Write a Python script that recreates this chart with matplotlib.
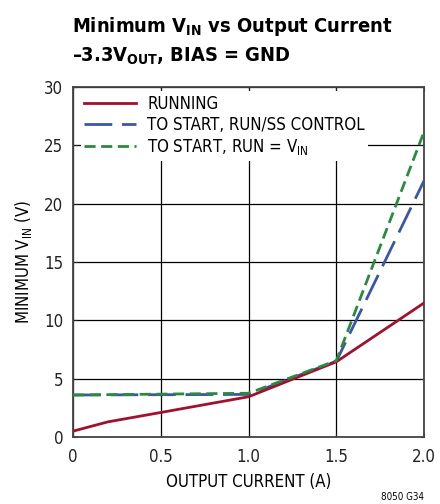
import matplotlib
matplotlib.use("Agg")
import matplotlib.pyplot as plt
from matplotlib import font_manager

tt = font_manager.fontManager.ttflist
names = {f.name for f in tt}
STRETCH = "normal"
if "Liberation Sans Narrow" in names:
    FONT = "Liberation Sans Narrow"
elif any(f.name == "DejaVu Sans" and f.stretch in ("condensed", "semi-condensed") for f in tt):
    FONT = "DejaVu Sans"
    STRETCH = "condensed"
elif "Roboto Condensed" in names:
    FONT = "Roboto Condensed"
elif "Roboto" in names:
    FONT = "Roboto"
else:
    FONT = "Liberation Sans"

plt.rcParams['font.family'] = [FONT, 'DejaVu Sans']
plt.rcParams['font.stretch'] = STRETCH
plt.rcParams['mathtext.fontset'] = 'custom'
plt.rcParams['mathtext.rm'] = FONT
plt.rcParams['mathtext.it'] = FONT
plt.rcParams['mathtext.bf'] = FONT + ':bold'
plt.rcParams['mathtext.default'] = 'regular'

# Data
run_x = [0.0, 0.2, 0.5, 1.0, 1.5, 2.0]
run_y = [0.5, 1.3, 2.1, 3.45, 6.45, 11.5]
ss_x = [0.0, 1.0, 1.5, 2.0]
ss_y = [3.6, 3.65, 6.5, 22.0]
vin_x = [0.0, 1.0, 1.5, 2.0]
vin_y = [3.6, 3.75, 6.55, 26.2]
labels = ["RUNNING", "TO START, RUN/SS CONTROL", "TO START, RUN = V$_{IN}$"]
xticks = [0, 0.5, 1.0, 1.5, 2.0]
xticklabels = ["0", "0.5", "1.0", "1.5", "2.0"]
yticks = [0, 5, 10, 15, 20, 25, 30]
title1 = "Minimum V$_{IN}$ vs Output Current"
title2 = "–3.3V$_{OUT}$, BIAS = GND"

RED = "#a0112e"
BLUE = "#3a56a8"
GREEN = "#2a8a3e"

fig = plt.figure(figsize=(4.4, 5.04), dpi=100)
renderer = fig.canvas.get_renderer()


def width_at(s, size, **kw):
    t = fig.text(0, 0, s, fontsize=size, **kw)
    w = t.get_window_extent(renderer).width
    t.remove()
    return w

# fit sizes to reference widths (px)
BASE = 13 * 217.0 / width_at("TO START, RUN/SS CONTROL", 13)
BASE = min(BASE, 13.5)
TSIZE = 17 * 321.0 / width_at(title1, 17, fontweight="bold")
TSIZE = min(TSIZE, 17.5)

ax = fig.add_axes([0.166, 0.133, 0.798, 0.694])

ax.plot(run_x, run_y, color=RED, lw=2.0, label=labels[0], zorder=4)
ax.plot(ss_x, ss_y, color=BLUE, lw=2.0, dashes=(10, 3.5), label=labels[1], zorder=3)
ax.plot(vin_x, vin_y, color=GREEN, lw=2.0, dashes=(4, 2), label=labels[2], zorder=5)

ax.set_xlim(0, 2.0)
ax.set_ylim(0, 30)
ax.set_xticks(xticks)
ax.set_xticklabels(xticklabels)
ax.set_yticks(yticks)
ax.grid(True, color="black", lw=0.9)
ax.set_axisbelow(True)
ax.tick_params(direction="in", length=3, top=True, right=True, labelsize=BASE,
               colors="#222222")
ax.tick_params(axis="x", pad=8)
ax.tick_params(axis="y", pad=7)
for s in ax.spines.values():
    s.set_color("#444444")
    s.set_linewidth(1.3)

ax.set_xlabel("OUTPUT CURRENT (A)", fontsize=BASE, labelpad=5)
ax.set_ylabel("MINIMUM V$_{IN}$ (V)", fontsize=BASE, labelpad=7)

px_per_em = BASE * 100 / 72.0
leg = ax.legend(loc="upper left", bbox_to_anchor=(0.011, 1.0), fontsize=BASE,
                frameon=True, facecolor="white",
                edgecolor="none", framealpha=1, fancybox=False,
                handlelength=52 / px_per_em, handletextpad=11 / px_per_em,
                labelspacing=0.19, borderpad=0.2, borderaxespad=0.25)
leg.set_zorder(2)

fig.text(0.164, 0.937, title1, fontsize=TSIZE, fontweight="bold",
         ha="left", va="baseline")
fig.text(0.164, 0.877, title2, fontsize=TSIZE, fontweight="bold",
         ha="left", va="baseline")
fig.text(0.964, 0.003, "8050 G34", fontsize=7, ha="right", va="bottom")

fig.savefig("out.png", dpi=100)
